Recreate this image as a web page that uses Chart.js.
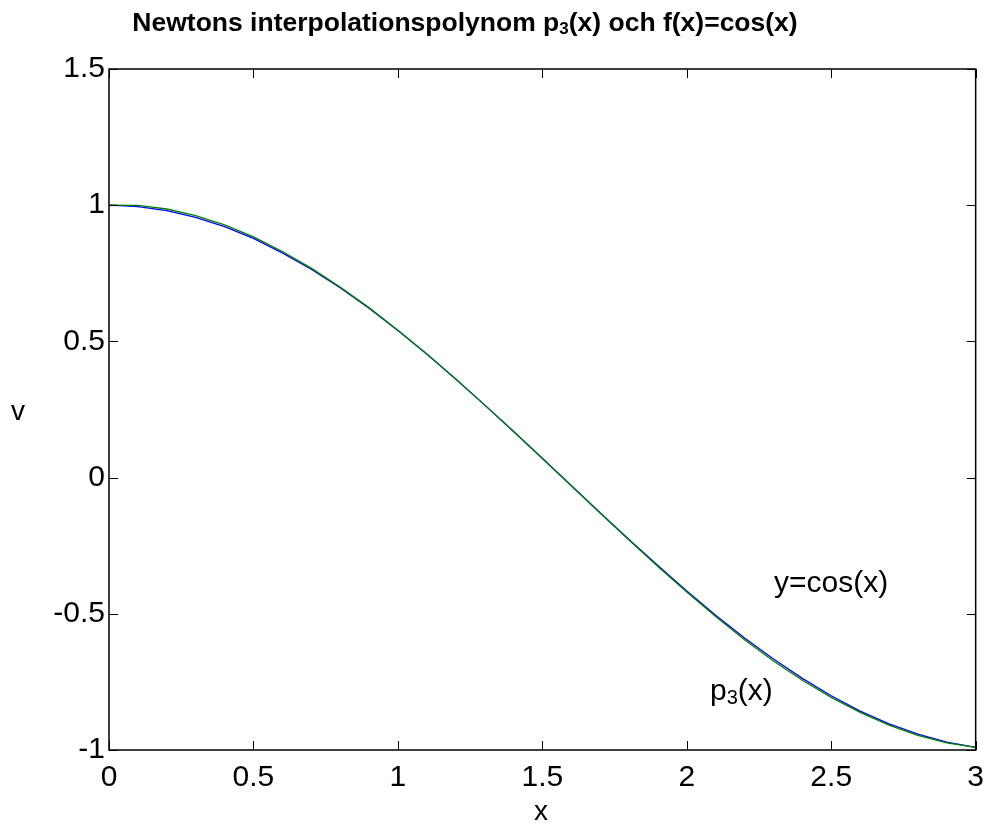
<!DOCTYPE html>
<html>
<head>
<meta charset="utf-8">
<script src="https://cdn.jsdelivr.net/npm/chart.js@4.4.1/dist/chart.umd.min.js"></script>
<style>
  html, body { margin: 0; padding: 0; background: #ffffff; }
  #wrap { width: 994px; height: 823px; }
</style>
</head>
<body>
<div id="wrap"><canvas id="c" width="994" height="823"></canvas></div>
<script>
// ---- data ----
const xValues = [0.0, 0.1, 0.2, 0.3, 0.4, 0.5, 0.6, 0.7, 0.8, 0.9, 1.0,
                 1.1, 1.2, 1.3, 1.4, 1.5, 1.6, 1.7, 1.8, 1.9, 2.0,
                 2.1, 2.2, 2.3, 2.4, 2.5, 2.6, 2.7, 2.8, 2.9, 3.0];
const cosValues = [1.000, 0.995, 0.980, 0.955, 0.921, 0.878, 0.825, 0.765, 0.697, 0.622, 0.540,
                   0.454, 0.362, 0.267, 0.170, 0.071, -0.029, -0.129, -0.227, -0.323, -0.416,
                   -0.505, -0.589, -0.666, -0.737, -0.801, -0.857, -0.904, -0.942, -0.971, -0.990];
const p3Values = [1.000, 0.999, 0.986, 0.962, 0.928, 0.884, 0.830, 0.769, 0.700, 0.624, 0.541,
                  0.454, 0.362, 0.267, 0.169, 0.070, -0.030, -0.130, -0.229, -0.326, -0.420,
                  -0.510, -0.595, -0.673, -0.744, -0.807, -0.862, -0.909, -0.946, -0.974, -0.990];
const xTicks = [0, 0.5, 1, 1.5, 2, 2.5, 3];
const yTicks = [-1, -0.5, 0, 0.5, 1, 1.5];
const xTickLabels = ["0", "0.5", "1", "1.5", "2", "2.5", "3"];
const yTickLabels = ["-1", "-0.5", "0", "0.5", "1", "1.5"];
const titleParts = ["Newtons interpolationspolynom p", "3", "(x) och f(x)=cos(x)"];
const xLabel = "x";
const yLabel = "v";
const cosLabel = "y=cos(x)";
const p3Parts = ["p", "3", "(x)"];

const FONT = "'Liberation Sans', Arial, Helvetica, sans-serif";

function pts(xs, ys) { return xs.map((x, i) => ({ x: x, y: ys[i] })); }

function drawSub(ctx, parts, x, y, size, bold, align) {
  const w = bold ? 'bold ' : '';
  const subSize = Math.round(size * 0.66);
  ctx.font = w + size + 'px ' + FONT;
  const w0 = ctx.measureText(parts[0]).width;
  const w2 = ctx.measureText(parts[2]).width;
  ctx.font = w + subSize + 'px ' + FONT;
  const w1 = ctx.measureText(parts[1]).width;
  const total = w0 + w1 + w2;
  let sx = align === 'center' ? x - total / 2 : x;
  ctx.textAlign = 'left';
  ctx.textBaseline = 'alphabetic';
  ctx.font = w + size + 'px ' + FONT;
  ctx.fillText(parts[0], sx, y);
  ctx.font = w + subSize + 'px ' + FONT;
  ctx.fillText(parts[1], sx + w0, y + size * 0.13);
  ctx.font = w + size + 'px ' + FONT;
  ctx.fillText(parts[2], sx + w0 + w1, y);
}

const framePlugin = {
  id: 'frame',
  afterDraw(chart) {
    const ctx = chart.ctx;
    const a = chart.chartArea;
    const xs = chart.scales.x, ys = chart.scales.y;
    ctx.save();
    ctx.strokeStyle = '#000000';
    ctx.lineWidth = 1.5;
    ctx.strokeRect(a.left, a.top, a.right - a.left, a.bottom - a.top);
    ctx.lineWidth = 1;
    const tl = 9;
    ctx.beginPath();
    xTicks.forEach(v => {
      const p = Math.round(xs.getPixelForValue(v)) + 0.5;
      ctx.moveTo(p, a.bottom); ctx.lineTo(p, a.bottom - tl);
      ctx.moveTo(p, a.top); ctx.lineTo(p, a.top + tl);
    });
    yTicks.forEach(v => {
      const p = Math.round(ys.getPixelForValue(v)) + 0.5;
      ctx.moveTo(a.left, p); ctx.lineTo(a.left + tl, p);
      ctx.moveTo(a.right, p); ctx.lineTo(a.right - tl, p);
    });
    ctx.stroke();

    ctx.fillStyle = '#000000';
    // title
    drawSub(ctx, titleParts, 465, 31, 26.5, true, 'center');
    // axis labels
    ctx.font = '28px ' + FONT;
    ctx.textAlign = 'center';
    ctx.textBaseline = 'alphabetic';
    ctx.fillText(xLabel, 541, 820);
    ctx.fillText(yLabel, 18, 420);
    // annotations
    ctx.font = '30px ' + FONT;
    ctx.textAlign = 'left';
    ctx.fillText(cosLabel, 774, 592);
    drawSub(ctx, p3Parts, 710, 700, 30, false, 'left');
    ctx.restore();
  }
};

new Chart(document.getElementById('c'), {
  type: 'scatter',
  data: {
    datasets: [
      { label: 'p3(x)', data: pts(xValues, p3Values), showLine: true, borderColor: '#008000',
        backgroundColor: '#008000', borderWidth: 1.3, pointRadius: 0, tension: 0, order: 0 },
      { label: 'cos(x)', data: pts(xValues, cosValues), showLine: true, borderColor: '#0000ff',
        backgroundColor: '#0000ff', borderWidth: 1.3, pointRadius: 0, tension: 0, order: 1 }
    ]
  },
  options: {
    responsive: false,
    animation: false,
    devicePixelRatio: 1,
    layout: { padding: { left: 0, top: 69, right: 15, bottom: 0 } },
    plugins: { legend: { display: false }, title: { display: false }, tooltip: { enabled: false } },
    scales: {
      x: {
        type: 'linear', min: 0, max: 3,
        afterBuildTicks: s => { s.ticks = xTicks.map(v => ({ value: v })); },
        afterFit: s => { s.height = 73; },
        grid: { display: false, drawTicks: false },
        border: { display: false },
        ticks: {
          color: '#000000', padding: 10, maxRotation: 0, autoSkip: false,
          font: { family: FONT, size: 30 },
          callback: (v) => xTickLabels[xTicks.indexOf(v)]
        }
      },
      y: {
        type: 'linear', min: -1, max: 1.5,
        afterBuildTicks: s => { s.ticks = yTicks.map(v => ({ value: v })); },
        afterFit: s => { s.width = 109; },
        grid: { display: false, drawTicks: false },
        border: { display: false },
        ticks: {
          color: '#000000', padding: 4, autoSkip: false,
          font: { family: FONT, size: 30 },
          callback: (v) => yTickLabels[yTicks.indexOf(v)]
        }
      }
    }
  },
  plugins: [framePlugin]
});
</script>
</body>
</html>
